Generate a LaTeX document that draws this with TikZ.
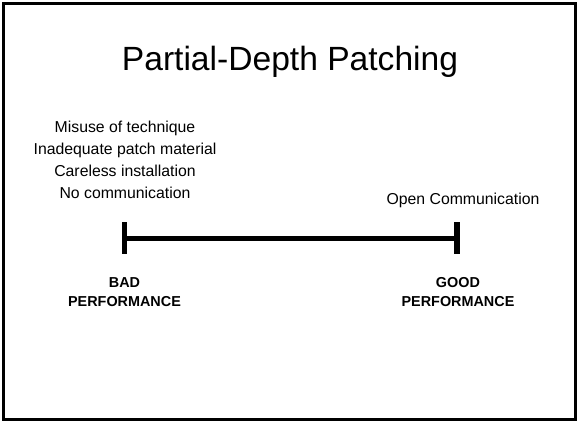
\documentclass[tikz,border=0pt]{standalone}
\usepackage{fontspec}
\setmainfont{Liberation Sans}
\usetikzlibrary{positioning}
\begin{document}
\begin{tikzpicture}[
  x=0.5pt, y=-0.5pt,
  txt/.style={inner sep=0pt, align=center, anchor=base},
  causes/.style={txt, font=\fontsize{7.9}{11}\selectfont},
  perf/.style={txt, font=\fontsize{7.2}{9.5}\selectfont\bfseries},
  bar/.style={line width=2.75pt},
]
\useasboundingbox (0,0) rectangle (580,421);
\draw[line width=1.1pt] (3.5,3.5) rectangle (575.5,419.5);

\node[txt, font=\fontsize{16.8}{19}\selectfont] (title) at (290,71) {Partial-Depth Patching};

% base of a multi-line node is its last line
\node[causes] (bad list) at (125,199) {Misuse of technique\\ Inadequate patch material\\ Careless installation\\ No communication};
\node[causes] (good list) at (463,205) {Open Communication};

% performance scale
\coordinate (lend) at (124.5,238.5);
\coordinate (rend) at (457,238.5);
\draw[bar] (lend) -- (rend);
\draw[bar] (lend) ++(0,-16) -- ++(0,32);
\draw[bar] (rend) ++(0,-16) -- ++(0,32);

\node[perf] (bad) at (124.5,307) {BAD\\ PERFORMANCE};
\node[perf] (good) at (458,307) {GOOD\\ PERFORMANCE};
\end{tikzpicture}
\end{document}
